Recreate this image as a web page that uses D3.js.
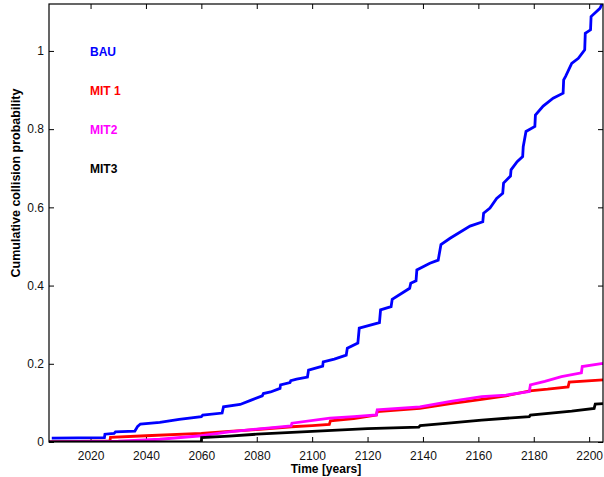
<!DOCTYPE html>
<html>
<head>
<meta charset="utf-8">
<script src="https://cdn.jsdelivr.net/npm/d3@7"></script>
<style>
  html, body { margin: 0; padding: 0; background: #fff; }
  svg { display: block; font-family: "Liberation Sans", Arial, Helvetica, sans-serif; }
</style>
</head>
<body>
<svg id="chart" width="604" height="477"></svg>
<script>
// ---- data ----
const seriesNames = ["BAU", "MIT 1", "MIT2", "MIT3"];
const seriesColors = ["#0000ff", "#ff0000", "#ff00ff", "#000000"];

const bau = [
  [2006, 0.01], [2025, 0.011], [2025.2, 0.02], [2028.5, 0.022], [2029, 0.026], [2036, 0.028],
  [2037, 0.04], [2038, 0.046], [2045, 0.05], [2052, 0.058], [2060, 0.065], [2060.5, 0.069],
  [2067.5, 0.074], [2068, 0.09], [2074, 0.096], [2078, 0.107], [2082, 0.118], [2082.4, 0.124],
  [2085, 0.128], [2088.4, 0.137], [2088.6, 0.146], [2092, 0.152], [2092.3, 0.157],
  [2094.4, 0.161], [2098.3, 0.166], [2098.7, 0.184], [2103.8, 0.194],
  [2104, 0.205], [2108, 0.212], [2112.3, 0.222], [2112.7, 0.24], [2116.5, 0.253], [2117, 0.291],
  [2124.3, 0.305], [2124.7, 0.338], [2128.5, 0.346], [2128.9, 0.365], [2135.2, 0.393],
  [2135.6, 0.406], [2137.5, 0.412], [2137.8, 0.44], [2142.5, 0.457], [2145.5, 0.465],
  [2146.5, 0.505], [2149.8, 0.521], [2157, 0.552], [2161.6, 0.563], [2161.9, 0.585],
  [2164.2, 0.598], [2166.6, 0.623], [2168.8, 0.636], [2169.1, 0.662], [2171.6, 0.68],
  [2171.8, 0.696], [2174, 0.717], [2176, 0.73], [2176.2, 0.755], [2177.2, 0.794],
  [2180.4, 0.807], [2180.6, 0.836], [2183.4, 0.859], [2187, 0.879], [2190.6, 0.892],
  [2190.8, 0.926], [2191.5, 0.935], [2193.7, 0.968], [2196.1, 0.981], [2198.4, 1.003],
  [2198.6, 1.045], [2200.5, 1.054], [2200.7, 1.088], [2203.9, 1.109], [2205, 1.125]
];
const mit1 = [
  [2005, 0], [2027, 0.003], [2027.2, 0.012], [2040, 0.016], [2060, 0.022], [2070, 0.027],
  [2080, 0.032], [2092.6, 0.039], [2100, 0.042], [2106.2, 0.045], [2106.6, 0.054],
  [2115, 0.06], [2123.2, 0.069], [2123.5, 0.078], [2138.9, 0.086], [2150, 0.098],
  [2161.2, 0.109], [2170, 0.118], [2178.6, 0.131], [2185, 0.135], [2192.4, 0.141],
  [2192.8, 0.153], [2205, 0.159]
];
const mit2 = [
  [2005, 0], [2030, 0.002], [2045, 0.007], [2060, 0.016], [2070, 0.026], [2080, 0.033],
  [2092.4, 0.041], [2092.7, 0.048], [2106.4, 0.061], [2115, 0.065], [2123.2, 0.069],
  [2123.5, 0.082], [2138.9, 0.09], [2150, 0.104], [2161.2, 0.116], [2170, 0.12],
  [2178.4, 0.129], [2178.8, 0.146], [2184, 0.155], [2190, 0.167], [2197.2, 0.177],
  [2197.5, 0.193], [2205, 0.201]
];
const mit3 = [
  [2005, 0], [2060, 0.001], [2060.1, 0.011], [2070, 0.015], [2080, 0.02], [2100, 0.027],
  [2120, 0.034], [2138.5, 0.038], [2139, 0.042], [2149.2, 0.048], [2161.2, 0.056],
  [2178.4, 0.065], [2178.8, 0.069], [2193.7, 0.079], [2201.8, 0.086], [2202.2, 0.097],
  [2205, 0.098]
];
const seriesData = [bau, mit1, mit2, mit3];

const xTicks = [2020, 2040, 2060, 2080, 2100, 2120, 2140, 2160, 2180, 2200];
const yTicks = [0, 0.2, 0.4, 0.6, 0.8, 1];
const xDomain = [2005, 2205];
const yDomain = [0, 1.12];
const xTitle = "Time [years]";
const yTitle = "Cumulative collision probability";

// ---- layout ----
const mLeft = 49, mRight = 603, mTop = 4, mBottom = 442;
const svg = d3.select("#chart");

const x = d3.scaleLinear().domain(xDomain).range([mLeft, mRight]);
const y = d3.scaleLinear().domain(yDomain).range([mBottom, mTop]);

svg.append("defs").append("clipPath").attr("id", "clip")
  .append("rect").attr("x", mLeft).attr("y", mTop)
  .attr("width", mRight - mLeft).attr("height", mBottom - mTop);

// axes (MATLAB-style box with inward ticks)
const tickLen = 5;
const gx = svg.append("g").attr("transform", `translate(0,${mBottom})`)
  .call(d3.axisBottom(x).tickValues(xTicks).tickSizeInner(-tickLen).tickSizeOuter(0).tickPadding(9).tickFormat(d3.format("d")));
const gxTop = svg.append("g").attr("transform", `translate(0,${mTop})`)
  .call(d3.axisTop(x).tickValues(xTicks).tickSizeInner(-tickLen).tickSizeOuter(0).tickFormat(""));
const gy = svg.append("g").attr("transform", `translate(${mLeft},0)`)
  .call(d3.axisLeft(y).tickValues(yTicks).tickSizeInner(-tickLen).tickSizeOuter(0).tickPadding(5).tickFormat(d => d === 0 ? "0" : d === 1 ? "1" : d3.format(".1f")(d)));
const gyRight = svg.append("g").attr("transform", `translate(${mRight},0)`)
  .call(d3.axisRight(y).tickValues(yTicks).tickSizeInner(-tickLen).tickSizeOuter(0).tickFormat(""));

[gx, gxTop, gy, gyRight].forEach(g => {
  g.select(".domain").remove();
  g.selectAll(".tick line").attr("stroke", "#000").attr("stroke-width", 1);
  g.selectAll(".tick text").attr("fill", "#111").attr("font-size", 12)
    .attr("font-family", "'Liberation Sans', Arial, sans-serif");
});

// series lines
const line = d3.line().x(d => x(d[0])).y(d => y(d[1]));
const lines = svg.append("g").attr("clip-path", "url(#clip)");
seriesData.forEach((data, i) => {
  lines.append("path").datum(data)
    .attr("fill", "none")
    .attr("stroke", seriesColors[i])
    .attr("stroke-width", 2.8)
    .attr("stroke-linejoin", "miter")
    .attr("d", line);
});

// box
svg.append("rect").attr("x", mLeft).attr("y", mTop)
  .attr("width", mRight - mLeft).attr("height", mBottom - mTop)
  .attr("fill", "none").attr("stroke", "#000").attr("stroke-width", 1.2);

// legend-like labels
const legendY = [56, 95, 134, 173];
seriesNames.forEach((name, i) => {
  svg.append("text").attr("x", 90).attr("y", legendY[i])
    .attr("fill", seriesColors[i]).attr("font-size", 12).attr("font-weight", "bold")
    .text(name);
});

// axis titles
svg.append("text").attr("x", (mLeft + mRight) / 2).attr("y", 473)
  .attr("text-anchor", "middle").attr("font-size", 12).attr("font-weight", "bold")
  .text(xTitle);
svg.append("text").attr("transform", "translate(20,183) rotate(-90)")
  .attr("text-anchor", "middle").attr("font-size", 12.5).attr("font-weight", "bold")
  .text(yTitle);
</script>
</body>
</html>
